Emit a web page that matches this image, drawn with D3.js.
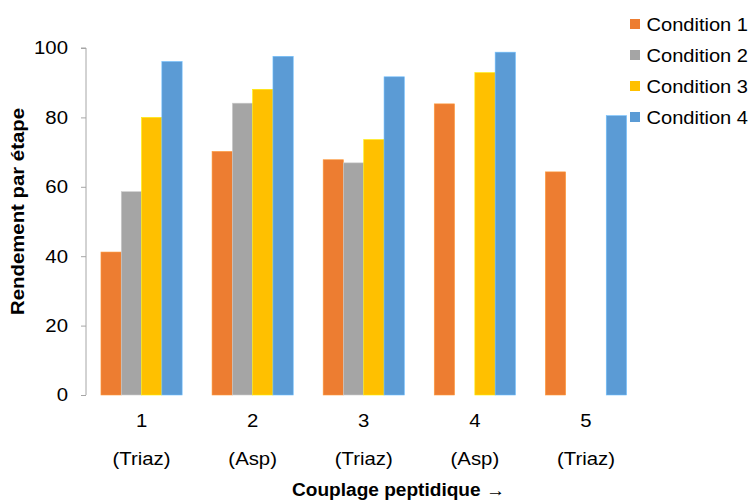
<!DOCTYPE html>
<html><head><meta charset="utf-8">
<script src="https://cdn.jsdelivr.net/npm/d3@7"></script>
<style>body{margin:0;background:#fff;} text{font-family:"Liberation Sans",Arial,sans-serif;fill:#000;}</style>
</head><body>
<svg id="c" width="753" height="500"></svg>
<script>
const categories = ["1","2","3","4","5"];
const subLabels = ["(Triaz)","(Asp)","(Triaz)","(Asp)","(Triaz)"];
const series = ["Condition 1","Condition 2","Condition 3","Condition 4"];
const colors = ["#ED7D31","#A5A5A5","#FFC000","#5B9BD5"];
const cond1 = [41.2, 70.2, 67.8, 83.9, 64.3];
const cond2 = [58.6, 84.1, 66.9, null, null];
const cond3 = [80.0, 88.1, 73.6, 92.9, null];
const cond4 = [96.1, 97.6, 91.7, 98.8, 80.5];
const yTicks = [0,20,40,60,80,100];

const values = [cond1, cond2, cond3, cond4];
const svg = d3.select("#c");
const mLeft = 86, mRight = 641.5, mTop = 48, mBottom = 395;
const FS = "18.5px", SX = 1.1;

const x0 = d3.scaleBand().domain(categories).range([mLeft, mRight]).paddingInner(0).paddingOuter(0);
const x1 = d3.scaleBand().domain(series).range([0, x0.bandwidth()]).paddingInner(0).paddingOuter(0.737);
const y = d3.scaleLinear().domain([0,100]).range([mBottom, mTop]);

// y axis
const yAxis = d3.axisLeft(y).tickValues(yTicks).tickSize(5).tickPadding(13);
const gy = svg.append("g").attr("transform", `translate(${mLeft},0)`).call(yAxis);
gy.select(".domain").attr("stroke","#A6A6A6").attr("d", `M-5,${mTop}H0V${mBottom}`);
gy.selectAll(".tick line").attr("stroke","#A6A6A6");
gy.selectAll(".tick text").attr("x", null).attr("transform", `translate(-18,0) scale(${SX},1)`)
  .style("font-size", FS).attr("fill","#000").style("font-family","Liberation Sans, Arial, sans-serif");

// bars
categories.forEach((c, i) => {
  const g = svg.append("g").attr("transform", `translate(${x0(c)},0)`);
  series.forEach((s, j) => {
    const v = values[j][i];
    if (v == null) return;
    g.append("rect")
      .attr("x", x1(s)).attr("width", x1.bandwidth())
      .attr("y", y(v)).attr("height", y(0) - y(v))
      .attr("fill", colors[j])
      .attr("stroke", d3.color(colors[j]).brighter(0.6)).attr("stroke-width", 0.6);
  });
  const cx = x0(c) + x0.bandwidth()/2;
  svg.append("text").attr("transform", `translate(${cx},427) scale(${SX},1)`)
    .attr("text-anchor","middle").style("font-size",FS).text(c);
  svg.append("text").attr("transform", `translate(${cx},464.5) scale(${SX},1)`)
    .attr("text-anchor","middle").style("font-size",FS).text(subLabels[i]);
});

// axis titles
svg.append("text").attr("x", 398.5).attr("y", 496).attr("text-anchor","middle")
  .attr("textLength", 213).attr("lengthAdjust","spacingAndGlyphs")
  .style("font-size","17.5px").style("font-weight","bold").text("Couplage peptidique →");
svg.append("text").attr("transform","translate(24,211.5) rotate(-90)").attr("text-anchor","middle")
  .attr("textLength", 207).attr("lengthAdjust","spacingAndGlyphs")
  .style("font-size","17.5px").style("font-weight","bold").text("Rendement par étape");

// legend
const lg = svg.append("g");
series.forEach((s, j) => {
  const cy = 24 + j * 31;
  lg.append("rect").attr("x", 630).attr("y", cy - 5).attr("width", 10).attr("height", 10).attr("fill", colors[j]);
  lg.append("text").attr("x", 646.5).attr("y", cy + 6.5)
    .attr("textLength", 101.5).attr("lengthAdjust","spacingAndGlyphs")
    .style("font-size",FS).text(s);
});
</script>
</body></html>
